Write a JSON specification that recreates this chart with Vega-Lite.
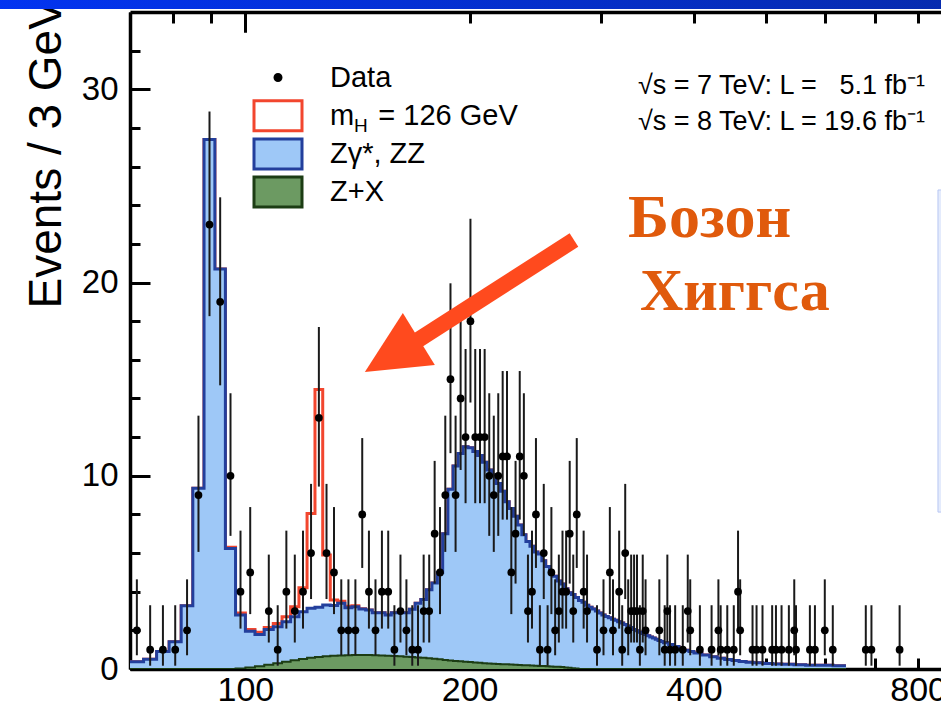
{
  "$schema": "https://vega.github.io/schema/vega-lite/v6.json",
  "width": 811,
  "height": 657,
  "autosize": {"type": "none"},
  "padding": {"left": 130, "top": 12, "right": 0, "bottom": 40},
  "background": "#ffffff",
  "config": {
    "view": {"stroke": null},
    "font": "Liberation Sans",
    "axis": {"domain": true, "domainColor": "#000000", "domainWidth": 3.5, "ticks": true, "tickColor": "#000000", "tickWidth": 3, "labelColor": "#000000", "labelFont": "Liberation Sans", "zindex": 1,
      "gridColor": "#000000", "gridWidth": 3, "gridDash": [20, 3000]}
  },
  "datasets": {
    "hist": [
      {"m":70,"zx":0,"bkg":0.38,"sig":0.38},{"m":73,"zx":0,"bkg":0.5,"sig":0.5},{"m":76,"zx":0,"bkg":0.9,"sig":0.9},{"m":79,"zx":0,"bkg":1.41,"sig":1.41},
      {"m":82,"zx":0,"bkg":3.27,"sig":3.27},{"m":85,"zx":0,"bkg":9.35,"sig":9.35},{"m":88,"zx":0,"bkg":27.4,"sig":27.4},{"m":91,"zx":0,"bkg":20.7,"sig":20.7},
      {"m":94,"zx":0,"bkg":6.24,"sig":6.3},{"m":97,"zx":0.02,"bkg":2.8,"sig":2.9},{"m":100,"zx":0.08,"bkg":1.95,"sig":2.05},{"m":103,"zx":0.14,"bkg":1.79,"sig":1.9},
      {"m":106,"zx":0.22,"bkg":2.05,"sig":2.15},{"m":109,"zx":0.3,"bkg":2.19,"sig":2.35},{"m":112,"zx":0.38,"bkg":2.45,"sig":2.7},{"m":115,"zx":0.45,"bkg":2.71,"sig":3.22},
      {"m":118,"zx":0.52,"bkg":2.96,"sig":4.2},{"m":121,"zx":0.58,"bkg":3.14,"sig":8.05},{"m":124,"zx":0.62,"bkg":3.19,"sig":14.47},{"m":127,"zx":0.66,"bkg":3.31,"sig":5.9},
      {"m":130,"zx":0.68,"bkg":3.28,"sig":3.57},{"m":133,"zx":0.7,"bkg":3.4,"sig":3.5},{"m":136,"zx":0.71,"bkg":3.17,"sig":3.25},{"m":139,"zx":0.72,"bkg":3.22,"sig":3.27},
      {"m":142,"zx":0.72,"bkg":3.1,"sig":3.12},{"m":145,"zx":0.72,"bkg":3.05,"sig":3.05},{"m":148,"zx":0.71,"bkg":2.91,"sig":2.91},{"m":151,"zx":0.7,"bkg":2.91,"sig":2.91},
      {"m":154,"zx":0.69,"bkg":2.79,"sig":2.79},{"m":157,"zx":0.67,"bkg":2.91,"sig":2.91},{"m":160,"zx":0.66,"bkg":2.91,"sig":2.91},{"m":163,"zx":0.64,"bkg":2.91,"sig":2.91},
      {"m":166,"zx":0.62,"bkg":3.09,"sig":3.09},{"m":169,"zx":0.6,"bkg":3.4,"sig":3.4},{"m":172,"zx":0.58,"bkg":3.6,"sig":3.6},{"m":175,"zx":0.56,"bkg":4.1,"sig":4.1},
      {"m":178,"zx":0.53,"bkg":4.45,"sig":4.45},{"m":181,"zx":0.5,"bkg":5.0,"sig":5.0},{"m":184,"zx":0.47,"bkg":7.0,"sig":7.0},{"m":187,"zx":0.44,"bkg":9.3,"sig":9.3},
      {"m":190,"zx":0.42,"bkg":10.5,"sig":10.5},{"m":193,"zx":0.4,"bkg":11.15,"sig":11.15},{"m":196,"zx":0.38,"bkg":11.5,"sig":11.5},{"m":199,"zx":0.36,"bkg":11.45,"sig":11.45},
      {"m":202,"zx":0.34,"bkg":11.25,"sig":11.25},{"m":205,"zx":0.32,"bkg":11.05,"sig":11.05},{"m":208,"zx":0.3,"bkg":10.7,"sig":10.7},{"m":211,"zx":0.29,"bkg":10.3,"sig":10.3},
      {"m":214,"zx":0.27,"bkg":10.05,"sig":10.05},{"m":217,"zx":0.26,"bkg":9.6,"sig":9.6},{"m":220,"zx":0.25,"bkg":9.2,"sig":9.2},{"m":223,"zx":0.24,"bkg":8.65,"sig":8.65},
      {"m":226,"zx":0.23,"bkg":8.3,"sig":8.3},{"m":229,"zx":0.22,"bkg":7.9,"sig":7.9},{"m":232,"zx":0.21,"bkg":7.45,"sig":7.45},{"m":235,"zx":0.2,"bkg":6.95,"sig":6.95},
      {"m":238,"zx":0.19,"bkg":6.6,"sig":6.6},{"m":241,"zx":0.18,"bkg":6.35,"sig":6.35},{"m":244,"zx":0.17,"bkg":6.05,"sig":6.05},{"m":247,"zx":0.16,"bkg":5.95,"sig":5.95},
      {"m":250,"zx":0.15,"bkg":5.6,"sig":5.6},{"m":253,"zx":0.14,"bkg":5.3,"sig":5.3},{"m":256,"zx":0.13,"bkg":5.0,"sig":5.0},{"m":259,"zx":0.12,"bkg":4.8,"sig":4.8},
      {"m":262,"zx":0.11,"bkg":4.55,"sig":4.55},{"m":265,"zx":0.1,"bkg":4.4,"sig":4.4},{"m":268,"zx":0.08,"bkg":4.15,"sig":4.15},{"m":271,"zx":0.06,"bkg":3.95,"sig":3.95},
      {"m":274,"zx":0.04,"bkg":3.85,"sig":3.85},{"m":277,"zx":0.02,"bkg":3.7,"sig":3.7},{"m":280,"zx":0,"bkg":3.55,"sig":3.55},{"m":283,"zx":0,"bkg":3.45,"sig":3.45},
      {"m":286,"zx":0,"bkg":3.3,"sig":3.3},{"m":289,"zx":0,"bkg":3.2,"sig":3.2},{"m":292,"zx":0,"bkg":3.1,"sig":3.1},{"m":295,"zx":0,"bkg":3.0,"sig":3.0},
      {"m":298,"zx":0,"bkg":2.9,"sig":2.9},{"m":301,"zx":0,"bkg":2.8,"sig":2.8},{"m":304,"zx":0,"bkg":2.72,"sig":2.72},{"m":307,"zx":0,"bkg":2.65,"sig":2.65},
      {"m":310,"zx":0,"bkg":2.58,"sig":2.58},{"m":313,"zx":0,"bkg":2.52,"sig":2.52},{"m":316,"zx":0,"bkg":2.45,"sig":2.45},{"m":319,"zx":0,"bkg":2.38,"sig":2.38},
      {"m":322,"zx":0,"bkg":2.3,"sig":2.3},{"m":325,"zx":0,"bkg":2.22,"sig":2.22},{"m":328,"zx":0,"bkg":2.15,"sig":2.15},{"m":331,"zx":0,"bkg":2.05,"sig":2.05},
      {"m":334,"zx":0,"bkg":1.98,"sig":1.98},{"m":337,"zx":0,"bkg":1.9,"sig":1.9},{"m":340,"zx":0,"bkg":1.84,"sig":1.84},{"m":343,"zx":0,"bkg":1.78,"sig":1.78},
      {"m":346,"zx":0,"bkg":1.72,"sig":1.72},{"m":349,"zx":0,"bkg":1.66,"sig":1.66},{"m":352,"zx":0,"bkg":1.6,"sig":1.6},{"m":355,"zx":0,"bkg":1.54,"sig":1.54},
      {"m":358,"zx":0,"bkg":1.48,"sig":1.48},{"m":361,"zx":0,"bkg":1.42,"sig":1.42},{"m":364,"zx":0,"bkg":1.36,"sig":1.36},{"m":370,"zx":0,"bkg":1.27,"sig":1.27},
      {"m":376,"zx":0,"bkg":1.16,"sig":1.16},{"m":382,"zx":0,"bkg":1.06,"sig":1.06},{"m":388,"zx":0,"bkg":0.97,"sig":0.97},{"m":394,"zx":0,"bkg":0.9,"sig":0.9},
      {"m":400,"zx":0,"bkg":0.83,"sig":0.83},{"m":410,"zx":0,"bkg":0.73,"sig":0.73},{"m":420,"zx":0,"bkg":0.63,"sig":0.63},{"m":430,"zx":0,"bkg":0.55,"sig":0.55},
      {"m":440,"zx":0,"bkg":0.49,"sig":0.49},{"m":450,"zx":0,"bkg":0.44,"sig":0.44},{"m":460,"zx":0,"bkg":0.39,"sig":0.39},{"m":470,"zx":0,"bkg":0.35,"sig":0.35},
      {"m":480,"zx":0,"bkg":0.32,"sig":0.32},{"m":495,"zx":0,"bkg":0.29,"sig":0.29},{"m":510,"zx":0,"bkg":0.26,"sig":0.26},{"m":525,"zx":0,"bkg":0.24,"sig":0.24},
      {"m":545,"zx":0,"bkg":0.22,"sig":0.22},{"m":565,"zx":0,"bkg":0.2,"sig":0.2},{"m":590,"zx":0,"bkg":0.19,"sig":0.19},{"m":615,"zx":0,"bkg":0.17,"sig":0.17},
      {"m":640,"zx":0,"bkg":0.17,"sig":0.17}
    ],
    "pts": [
      {"m":71.5,"n":2,"lo":0.71,"hi":4.64},{"m":74.5,"n":1,"lo":0.17,"hi":3.3},{"m":77.5,"n":1,"lo":0.17,"hi":3.3},{"m":80.5,"n":1,"lo":0.17,"hi":3.3},
      {"m":83.5,"n":2,"lo":0.71,"hi":4.64},{"m":86.5,"n":9,"lo":6.06,"hi":13.11},{"m":89.5,"n":23,"lo":18.26,"hi":28.85},{"m":92.5,"n":19,"lo":14.68,"hi":24.41},
      {"m":95.5,"n":10,"lo":6.89,"hi":14.27},{"m":98.5,"n":4,"lo":2.09,"hi":7.16},{"m":101.5,"n":5,"lo":2.84,"hi":8.38},{"m":107.5,"n":3,"lo":1.37,"hi":5.92},
      {"m":110.5,"n":1,"lo":0.17,"hi":3.3},{"m":113.5,"n":4,"lo":2.09,"hi":7.16},{"m":116.5,"n":3,"lo":1.37,"hi":5.92},{"m":119.5,"n":4,"lo":2.09,"hi":7.16},
      {"m":122.5,"n":6,"lo":3.62,"hi":9.58},{"m":125.5,"n":13,"lo":9.44,"hi":17.7},{"m":128.5,"n":6,"lo":3.62,"hi":9.58},{"m":131.5,"n":5,"lo":2.84,"hi":8.38},
      {"m":134.5,"n":2,"lo":0.71,"hi":4.64},{"m":137.5,"n":2,"lo":0.71,"hi":4.64},{"m":140.5,"n":2,"lo":0.71,"hi":4.64},{"m":143.5,"n":8,"lo":5.23,"hi":11.95},
      {"m":146.5,"n":4,"lo":2.09,"hi":7.16},{"m":149.5,"n":2,"lo":0.71,"hi":4.64},{"m":152.5,"n":4,"lo":2.09,"hi":7.16},{"m":155.5,"n":4,"lo":2.09,"hi":7.16},
      {"m":158.5,"n":1,"lo":0.17,"hi":3.3},{"m":161.5,"n":3,"lo":1.37,"hi":5.92},{"m":164.5,"n":2,"lo":0.71,"hi":4.64},{"m":167.5,"n":1,"lo":0.17,"hi":3.3},
      {"m":170.5,"n":1,"lo":0.17,"hi":3.3},{"m":173.5,"n":3,"lo":1.37,"hi":5.92},{"m":176.5,"n":3,"lo":1.37,"hi":5.92},{"m":179.5,"n":7,"lo":4.42,"hi":10.77},
      {"m":182.5,"n":5,"lo":2.84,"hi":8.38},{"m":185.5,"n":9,"lo":6.06,"hi":13.11},{"m":188.5,"n":15,"lo":11.17,"hi":19.96},{"m":191.5,"n":9,"lo":6.06,"hi":13.11},
      {"m":194.5,"n":14,"lo":10.3,"hi":18.83},{"m":197.5,"n":12,"lo":8.58,"hi":16.56},{"m":200.5,"n":18,"lo":13.79,"hi":23.3},{"m":203.5,"n":12,"lo":8.58,"hi":16.56},
      {"m":206.5,"n":12,"lo":8.58,"hi":16.56},{"m":209.5,"n":12,"lo":8.58,"hi":16.56},{"m":212.5,"n":10,"lo":6.89,"hi":14.27},{"m":215.5,"n":9,"lo":6.06,"hi":13.11},
      {"m":218.5,"n":10,"lo":6.89,"hi":14.27},{"m":221.5,"n":11,"lo":7.73,"hi":15.42},{"m":224.5,"n":11,"lo":7.73,"hi":15.42},{"m":227.5,"n":5,"lo":2.84,"hi":8.38},
      {"m":230.5,"n":7,"lo":4.42,"hi":10.77},{"m":233.5,"n":11,"lo":7.73,"hi":15.42},{"m":236.5,"n":10,"lo":6.89,"hi":14.27},{"m":239.5,"n":3,"lo":1.37,"hi":5.92},
      {"m":242.5,"n":4,"lo":2.09,"hi":7.16},{"m":245.5,"n":8,"lo":5.23,"hi":11.95},{"m":248.5,"n":1,"lo":0.17,"hi":3.3},{"m":251.5,"n":6,"lo":3.62,"hi":9.58},
      {"m":254.5,"n":1,"lo":0.17,"hi":3.3},{"m":257.5,"n":5,"lo":2.84,"hi":8.38},{"m":260.5,"n":2,"lo":0.71,"hi":4.64},{"m":263.5,"n":3,"lo":1.37,"hi":5.92},
      {"m":266.5,"n":4,"lo":2.09,"hi":7.16},{"m":269.5,"n":4,"lo":2.09,"hi":7.16},{"m":272.5,"n":7,"lo":4.42,"hi":10.77},{"m":275.5,"n":3,"lo":1.37,"hi":5.92},
      {"m":278.5,"n":8,"lo":5.23,"hi":11.95},{"m":284.5,"n":4,"lo":2.09,"hi":7.16},{"m":287.5,"n":3,"lo":1.37,"hi":5.92},{"m":296.5,"n":1,"lo":0.17,"hi":3.3},
      {"m":302.5,"n":2,"lo":0.71,"hi":4.64},{"m":308.5,"n":5,"lo":2.84,"hi":8.38},{"m":311.5,"n":2,"lo":0.71,"hi":4.64},{"m":317.5,"n":4,"lo":2.09,"hi":7.16},
      {"m":320.5,"n":1,"lo":0.17,"hi":3.3},{"m":323.5,"n":6,"lo":3.62,"hi":9.58},{"m":326.5,"n":2,"lo":0.71,"hi":4.64},{"m":329.5,"n":3,"lo":1.37,"hi":5.92},
      {"m":332.5,"n":3,"lo":1.37,"hi":5.92},{"m":335.5,"n":3,"lo":1.37,"hi":5.92},{"m":338.5,"n":1,"lo":0.17,"hi":3.3},{"m":341.5,"n":3,"lo":1.37,"hi":5.92},
      {"m":344.5,"n":2,"lo":0.71,"hi":4.64},{"m":359.5,"n":2,"lo":0.71,"hi":4.64},{"m":365.5,"n":1,"lo":0.17,"hi":3.3},{"m":368.5,"n":3,"lo":1.37,"hi":5.92},
      {"m":371.5,"n":1,"lo":0.17,"hi":3.3},{"m":377.5,"n":1,"lo":0.17,"hi":3.3},{"m":386.5,"n":1,"lo":0.17,"hi":3.3},{"m":392.5,"n":3,"lo":1.37,"hi":5.92},
      {"m":395.5,"n":2,"lo":0.71,"hi":4.64},{"m":407.5,"n":1,"lo":0.17,"hi":3.3},{"m":422.5,"n":1,"lo":0.17,"hi":3.3},{"m":431.5,"n":2,"lo":0.71,"hi":4.64},
      {"m":434.5,"n":1,"lo":0.17,"hi":3.3},{"m":443.5,"n":1,"lo":0.17,"hi":3.3},{"m":452.5,"n":1,"lo":0.17,"hi":3.3},{"m":458.5,"n":4,"lo":2.09,"hi":7.16},
      {"m":461.5,"n":2,"lo":0.71,"hi":4.64},{"m":479.5,"n":1,"lo":0.17,"hi":3.3},{"m":485.5,"n":1,"lo":0.17,"hi":3.3},{"m":494.5,"n":1,"lo":0.17,"hi":3.3},
      {"m":509.5,"n":1,"lo":0.17,"hi":3.3},{"m":515.5,"n":1,"lo":0.17,"hi":3.3},{"m":524.5,"n":1,"lo":0.17,"hi":3.3},{"m":536.5,"n":1,"lo":0.17,"hi":3.3},
      {"m":545.5,"n":2,"lo":0.71,"hi":4.64},{"m":548.5,"n":1,"lo":0.17,"hi":3.3},{"m":572.5,"n":1,"lo":0.17,"hi":3.3},{"m":581.5,"n":1,"lo":0.17,"hi":3.3},
      {"m":599.5,"n":2,"lo":0.71,"hi":4.64},{"m":614.5,"n":1,"lo":0.17,"hi":3.3},{"m":680.5,"n":1,"lo":0.17,"hi":3.3},{"m":692.5,"n":1,"lo":0.17,"hi":3.3},
      {"m":755.5,"n":1,"lo":0.17,"hi":3.3}
    ],
    "leg": [
      {"label": "Data"},
      {"label": "m\u00a0\u00a0\u00a0= 126 GeV"},
      {"label": "Z\u03b3*, ZZ"},
      {"label": "Z+X"}
    ],
    "one": [{}]
  },
  "layer": [
    {
      "data": {"name": "one"},
      "mark": {"type": "rect", "clip": false, "fill": {"gradient": "linear", "x1": 0, "y1": 0, "x2": 1, "y2": 0, "stops": [{"offset": 0, "color": "#0234f4"}, {"offset": 1, "color": "#08299c"}]}},
      "encoding": {
        "x": {"datum": 40, "type": "quantitative", "scale": {"type": "log", "domain": [70, 858.6], "nice": false}, "axis": null},
        "x2": {"datum": 2000},
        "y": {"datum": 35, "type": "quantitative", "scale": {"domain": [0, 34], "nice": false, "zero": false}, "axis": null},
        "y2": {"datum": 34.15}
      }
    },
    {
      "data": {"name": "one"},
      "mark": {"type": "rect", "clip": false, "fill": "#e4ebfc", "stroke": "#b8c7f3", "strokeWidth": 1},
      "encoding": {
        "x": {"datum": 850.6, "type": "quantitative", "axis": null},
        "x2": {"datum": 900},
        "y": {"datum": 24.79, "type": "quantitative", "axis": null},
        "y2": {"datum": 8.12}
      }
    },
    {
      "data": {"name": "hist"},
      "mark": {"type": "line", "interpolate": "step-after", "stroke": "#f2462e", "strokeWidth": 3, "clip": true},
      "encoding": {
        "x": {"field": "m", "type": "quantitative", "scale": {"type": "log", "domain": [70, 858.6], "nice": false},
          "axis": {"orient": "bottom", "values": [70, 80, 90, 100, 200, 300, 400, 500, 600, 700, 800],
            "labelExpr": "indexof([100, 200, 400, 800], datum.value) >= 0 ? format(datum.value, 'd') : ''",
            "labelFontSize": 34, "labelPadding": 15, "labelOverlap": false, "labelFlush": false, "tickSize": -11, "title": null,
            "grid": true, "gridOpacity": {"condition": {"test": "datum.value === 100", "value": 1}, "value": 0}}},
        "y": {"field": "sig", "type": "quantitative", "scale": {"domain": [0, 34], "nice": false, "zero": false},
          "axis": {"orient": "left", "values": [0, 2, 4, 6, 8, 10, 12, 14, 16, 18, 20, 22, 24, 26, 28, 30, 32],
            "labelExpr": "datum.value === 0 || datum.value === 10 || datum.value === 20 || datum.value === 30 ? format(datum.value, 'd') : ''",
            "labelFontSize": 33, "labelPadding": 22, "labelOverlap": false, "tickSize": -10,
            "grid": true, "gridOpacity": {"condition": {"test": "datum.value === 0 || datum.value === 10 || datum.value === 20 || datum.value === 30", "value": 1}, "value": 0},
            "title": "Events / 3 GeV", "titleFont": "Liberation Sans", "titleFontSize": 46, "titleFontWeight": "normal", "titleColor": "#000000",
            "titleAngle": 270, "titleAlign": "left", "titleBaseline": "alphabetic", "titleX": -70, "titleY": 296}}
      }
    },
    {
      "data": {"name": "hist"},
      "mark": {"type": "area", "interpolate": "step-after", "fill": "#9ec8f7", "opacity": 1, "clip": true},
      "encoding": {
        "x": {"field": "m", "type": "quantitative", "axis": null},
        "y": {"field": "bkg", "type": "quantitative", "axis": null}
      }
    },
    {
      "data": {"name": "hist"},
      "mark": {"type": "line", "interpolate": "step-after", "stroke": "#233f9c", "strokeWidth": 3, "clip": true},
      "encoding": {
        "x": {"field": "m", "type": "quantitative", "axis": null},
        "y": {"field": "bkg", "type": "quantitative", "axis": null}
      }
    },
    {
      "data": {"name": "hist"},
      "mark": {"type": "area", "interpolate": "step-after", "fill": "#6c9a62", "opacity": 1, "clip": true},
      "encoding": {
        "x": {"field": "m", "type": "quantitative", "axis": null},
        "y": {"field": "zx", "type": "quantitative", "axis": null}
      }
    },
    {
      "data": {"name": "hist"},
      "mark": {"type": "line", "interpolate": "step-after", "stroke": "#1c3d14", "strokeWidth": 2, "clip": true},
      "encoding": {
        "x": {"field": "m", "type": "quantitative", "axis": null},
        "y": {"field": "zx", "type": "quantitative", "axis": null}
      }
    },
    {
      "data": {"name": "pts"},
      "mark": {"type": "rule", "stroke": "#1a1a1a", "strokeWidth": 2, "clip": true},
      "encoding": {
        "x": {"field": "m", "type": "quantitative", "axis": null},
        "y": {"field": "lo", "type": "quantitative", "axis": null},
        "y2": {"field": "hi"}
      }
    },
    {
      "data": {"name": "pts"},
      "mark": {"type": "circle", "fill": "#000000", "size": 60, "opacity": 1, "clip": true},
      "encoding": {
        "x": {"field": "m", "type": "quantitative", "axis": null},
        "y": {"field": "n", "type": "quantitative", "axis": null}
      }
    },
    {
      "data": {"name": "leg"},
      "mark": {"type": "point", "size": 4, "strokeWidth": 3, "opacity": 1, "clip": true},
      "encoding": {
        "x": {"datum": 10, "type": "quantitative", "axis": null},
        "y": {"datum": 1, "type": "quantitative", "axis": null},
        "fill": {"field": "label", "type": "nominal", "sort": null,
          "scale": {"domain": ["Data", "m\u00a0\u00a0\u00a0= 126 GeV", "Z\u03b3*, ZZ", "Z+X"], "range": ["#000000", "#ffffff", "#9ec8f7", "#6c9a62"]}},
        "stroke": {"field": "label", "type": "nominal", "sort": null,
          "scale": {"domain": ["Data", "m\u00a0\u00a0\u00a0= 126 GeV", "Z\u03b3*, ZZ", "Z+X"], "range": ["#000000", "#f2462e", "#233f9c", "#1c3d14"]}},
        "shape": {"field": "label", "type": "nominal", "sort": null,
          "scale": {"domain": ["Data", "m\u00a0\u00a0\u00a0= 126 GeV", "Z\u03b3*, ZZ", "Z+X"], "range": ["M-3,0A3,3 0 1,1 3,0A3,3 0 1,1 -3,0Z", "M-24,-15H24V15H-24Z", "M-24,-15H24V15H-24Z", "M-24,-15H24V15H-24Z"]},
          "legend": {"orient": "none", "legendX": 133.5, "legendY": 51, "title": null, "padding": 0, "offset": 0, "gridAlign": "all",
            "labelFont": "Liberation Sans", "labelFontSize": 29, "labelColor": "#000000", "labelOffset": 37.5, "labelLimit": 400,
            "symbolSize": 4, "symbolStrokeWidth": 3, "symbolOpacity": 1, "rowPadding": -4.8}}
      }
    },
    {
      "data": {"name": "one"},
      "mark": {"type": "rule", "stroke": "#ff4a1e", "strokeWidth": 16, "strokeCap": "butt"},
      "encoding": {
        "x": {"datum": 276.1, "type": "quantitative", "axis": null},
        "x2": {"datum": 168.9},
        "y": {"datum": 22.2, "type": "quantitative", "axis": null},
        "y2": {"datum": 16.92}
      }
    },
    {
      "data": {"name": "one"},
      "mark": {"type": "point", "shape": "M0,0L38,-59L70,-7Z", "size": 4, "filled": true, "fill": "#ff4a1e", "strokeWidth": 0, "opacity": 1},
      "encoding": {
        "x": {"datum": 144.66, "type": "quantitative", "axis": null},
        "y": {"datum": 15.37, "type": "quantitative", "axis": null}
      }
    },
    {
      "data": {"name": "one"},
      "mark": {"type": "text", "text": "Бозон", "font": "Liberation Serif", "fontSize": 62, "fontWeight": "bold", "color": "#e05a0c", "align": "left", "baseline": "alphabetic"},
      "encoding": {
        "x": {"datum": 326.2, "type": "quantitative", "axis": null},
        "y": {"datum": 22.35, "type": "quantitative", "axis": null}
      }
    },
    {
      "data": {"name": "one"},
      "mark": {"type": "text", "text": "Хиггса", "font": "Liberation Serif", "fontSize": 60, "fontWeight": "bold", "color": "#e05a0c", "align": "left", "baseline": "alphabetic"},
      "encoding": {
        "x": {"datum": 338.6, "type": "quantitative", "axis": null},
        "y": {"datum": 18.58, "type": "quantitative", "axis": null}
      }
    },
    {
      "data": {"name": "one"},
      "mark": {"type": "text", "text": "√s = 7 TeV: L = \u20075.1 fb⁻¹", "font": "Liberation Sans", "fontSize": 27, "color": "#000000", "align": "right", "baseline": "alphabetic"},
      "encoding": {
        "x": {"datum": 817, "type": "quantitative", "axis": null},
        "y": {"datum": 29.75, "type": "quantitative", "axis": null}
      }
    },
    {
      "data": {"name": "one"},
      "mark": {"type": "text", "text": "√s = 8 TeV: L = 19.6 fb⁻¹", "font": "Liberation Sans", "fontSize": 27, "color": "#000000", "align": "right", "baseline": "alphabetic"},
      "encoding": {
        "x": {"datum": 817, "type": "quantitative", "axis": null},
        "y": {"datum": 27.89, "type": "quantitative", "axis": null}
      }
    },
    {
      "data": {"name": "one"},
      "mark": {"type": "text", "text": "H", "font": "Liberation Sans", "fontSize": 19, "color": "#000000", "align": "left", "baseline": "alphabetic"},
      "encoding": {
        "x": {"datum": 139.9, "type": "quantitative", "axis": null},
        "y": {"datum": 27.8, "type": "quantitative", "axis": null}
      }
    },
    {
      "data": {"name": "hist"},
      "mark": {"type": "point", "opacity": 0},
      "encoding": {
        "x": {"field": "m", "type": "quantitative",
          "axis": {"orient": "top", "values": [70, 80, 90, 100, 200, 300, 400, 500, 600, 700, 800], "labels": false, "title": null, "tickSize": -11,
            "grid": true, "gridOpacity": {"condition": {"test": "datum.value === 100", "value": 1}, "value": 0}}}
      }
    }
  ],
  "resolve": {"axis": {"x": "independent", "y": "independent"}}
}
